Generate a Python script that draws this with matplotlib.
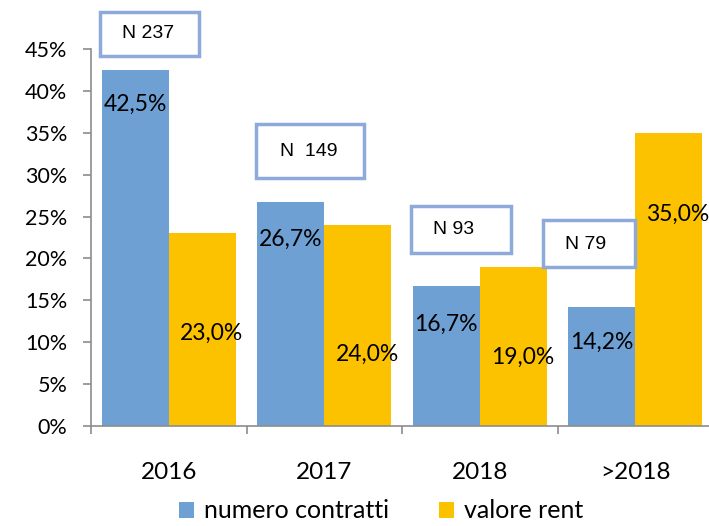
import matplotlib
matplotlib.use("Agg")
import matplotlib.pyplot as plt
from matplotlib.patches import Rectangle
from matplotlib.ticker import FuncFormatter
import numpy as np

categories = ["2016", "2017", "2018", ">2018"]
numero_contratti = [42.5, 26.7, 16.7, 14.2]
valore_rent = [23.0, 24.0, 19.0, 35.0]
n_labels = ["N 237", "N  149", "N 93", "N 79"]

# where the value labels sit (y, in %), as in the original slide
blue_label_y = [38.4, 22.3, 12.1, 10.0]
yellow_label_y = [11.1, 8.5, 8.2, 25.3]
# N boxes: (x0, x1, y0, y1) in category / % units, text centre (x, y)
n_boxes = [(-0.442, 0.195, 44.2, 49.4), (0.561, 1.256, 29.6, 36.0),
           (1.558, 2.201, 20.6, 26.3), (2.407, 2.998, 19.0, 24.6)]
n_text = [(-0.13, 46.8), (0.90, 32.8), (1.83, 23.4), (2.68, 21.7)]

BLUE = "#6FA0D3"
YELLOW = "#FCC200"
AXIS = "#8C8C8C"
FONT = "Lato"

fig = plt.figure(figsize=(7.09, 5.26), dpi=100, facecolor="white")
ax = fig.add_axes([91 / 709, 1 - 426 / 526, 622 / 709, (426 - 49) / 526])

x = np.arange(len(categories))
w = 0.43
ax.bar(x - w / 2, numero_contratti, w, color=BLUE, label="numero contratti")
ax.bar(x + w / 2, valore_rent, w, color=YELLOW, label="valore rent")

for i in range(len(categories)):
    ax.text(x[i] - w / 2, blue_label_y[i], f"{numero_contratti[i]:.1f}%".replace(".", ","),
            ha="center", va="center", fontsize=16.5, family=FONT)
    ax.text(x[i] + w / 2 + 0.06, yellow_label_y[i], f"{valore_rent[i]:.1f}%".replace(".", ","),
            ha="center", va="center", fontsize=16.5, family=FONT)

for (x0, x1, y0, y1), (tx, ty), lab in zip(n_boxes, n_text, n_labels):
    ax.add_patch(Rectangle((x0, y0), x1 - x0, y1 - y0, facecolor="white",
                           edgecolor="#8EAADB", lw=2.5, clip_on=False, zorder=5))
    ax.text(tx, ty, lab, ha="center", va="center", fontsize=14,
            family="Liberation Sans", zorder=6)

ax.set_xlim(-0.5, 3.5)
ax.set_ylim(0, 45)
ax.set_yticks(np.arange(0, 46, 5))
ax.yaxis.set_major_formatter(FuncFormatter(lambda v, _: f"{v:.0f}%"))
ax.set_xticks(np.arange(-0.5, 3.6, 1))
ax.set_xticklabels([])
ax.set_xticks(x, minor=True)
ax.set_xticklabels(categories, minor=True)
ax.tick_params(axis="x", which="minor", length=0, pad=26, labelsize=17.5)
ax.tick_params(axis="x", which="major", length=6, color=AXIS, width=1.2, direction="out")
ax.tick_params(axis="y", length=6, color=AXIS, width=1.2, pad=11, labelsize=15.5)
for lab in ax.get_xticklabels(minor=True) + ax.get_yticklabels():
    lab.set_family(FONT)

for side in ["top", "right"]:
    ax.spines[side].set_visible(False)
for side in ["left", "bottom"]:
    ax.spines[side].set_color(AXIS)
    ax.spines[side].set_linewidth(1.2)

fig.legend(loc="lower center", bbox_to_anchor=(0.537, -0.036), ncol=2, frameon=False,
           prop={"family": FONT, "size": 18}, handlelength=0.6, handleheight=0.6,
           handletextpad=0.4, columnspacing=2.0)

fig.savefig("out.png", dpi=100)
